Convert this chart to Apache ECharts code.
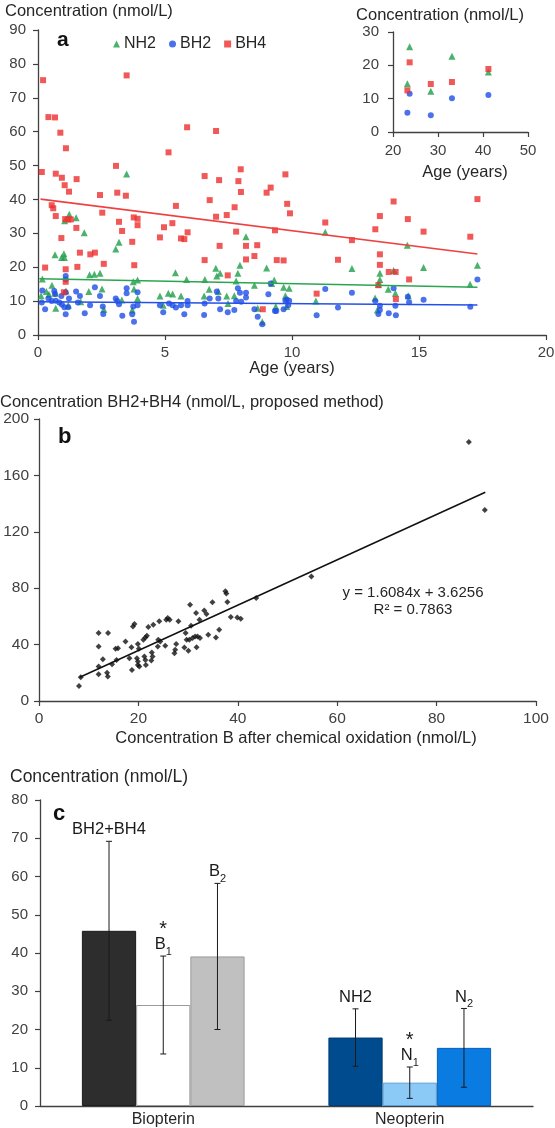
<!DOCTYPE html>
<html><head><meta charset="utf-8">
<script src="https://cdn.jsdelivr.net/npm/echarts@6/dist/echarts.min.js"></script>
<style>html,body{margin:0;padding:0;background:#fff}#c{width:555px;height:1128px}</style>
</head><body><div id="c"></div>
<script>
// ---------- Panel a: concentrations vs age ----------
const nh2 = [[3.49,47.5],[1.23,35.6],[1.05,33.7],[1.50,34.6],[1.82,30.2],[0.67,23.7],[1.02,24.0],[0.93,22.9],[1.04,22.9],[3.06,25.4],[3.19,27.4],[2.03,17.8],[2.22,17.9],[2.44,18.2],[0.17,16.5],[0.12,11.6],[0.43,12.0],[0.55,14.7],[0.33,12.8],[0.68,12.3],[0.70,7.9],[1.10,13.0],[1.19,8.8],[1.68,9.8],[2.00,12.8],[2.52,13.6],[2.59,7.6],[3.30,10.3],[3.75,15.7],[3.92,16.2],[3.78,13.6],[3.92,10.8],[3.71,7.4],[4.80,11.5],[4.93,8.8],[5.13,12.3],[5.30,12.1],[5.41,18.4],[5.63,11.5],[5.85,16.4],[6.54,11.5],[6.57,16.4],[6.74,13.5],[7.0,19.7],[7.04,17.4],[7.17,18.2],[7.10,12.8],[7.43,11.5],[7.48,9.3],[7.73,11.6],[7.80,15.9],[7.87,18.2],[7.95,20.6],[8.19,29.0],[8.52,14.7],[8.65,7.9],[8.83,3.9],[9.0,19.8],[9.2,15.2],[9.30,16.2],[9.36,8.4],[11.31,30.3],[9.67,14.1],[9.89,13.8],[9.74,11.6],[9.79,8.4],[10.94,10.0],[12.36,19.6],[13.27,10.9],[13.46,18.2],[13.46,16.4],[13.40,15.0],[13.36,7.4],[13.79,13.5],[14.00,19.0],[14.07,12.3],[14.54,26.5],[14.58,11.6],[15.18,19.9],[17.01,15.0],[17.30,20.6]];
const bh2 = [[0.17,13.1],[0.15,9.6],[0.28,7.6],[0.41,10.8],[0.54,10.0],[0.64,13.0],[0.67,12.1],[0.70,10.1],[0.84,9.6],[0.92,11.5],[0.94,9.0],[1.04,8.2],[1.09,17.4],[1.09,16.4],[1.09,12.6],[1.09,6.1],[1.22,10.8],[1.19,8.2],[1.50,12.8],[1.57,9.6],[1.65,11.5],[1.84,6.4],[2.05,8.8],[2.24,14.1],[2.44,11.5],[2.55,8.4],[2.57,6.2],[3.06,10.8],[3.12,10.0],[3.19,9.1],[3.49,13.8],[3.49,12.3],[3.32,5.7],[3.71,6.1],[3.75,8.4],[3.92,8.8],[3.92,12.6],[3.78,3.9],[4.80,8.8],[4.93,6.7],[5.16,9.3],[5.30,8.8],[5.43,8.1],[5.63,8.8],[5.76,6.1],[5.89,10.0],[5.89,8.8],[6.54,5.9],[6.56,9.3],[6.76,10.8],[7.04,12.8],[7.10,10.8],[7.17,7.6],[7.47,6.7],[7.73,7.4],[7.80,10.0],[7.87,13.8],[7.95,12.5],[8.0,9.8],[8.19,12.5],[8.19,11.1],[8.52,7.6],[8.65,5.4],[8.83,3.2],[9.07,12.0],[9.16,15.2],[9.33,7.1],[9.38,7.1],[9.67,7.6],[9.74,10.1],[9.79,10.5],[9.89,10.1],[9.85,8.8],[10.97,5.8],[11.31,13.6],[11.81,8.1],[12.36,12.5],[13.28,10.0],[13.40,6.2],[13.46,8.6],[13.46,7.4],[13.81,6.4],[14.00,13.8],[14.07,8.6],[14.09,5.8],[14.56,11.3],[14.61,9.7],[15.18,10.4],[17.02,8.3],[17.30,16.4]];
const bh4 = [[0.2,75.2],[0.41,64.3],[0.67,64.2],[0.88,59.7],[1.10,55.1],[0.15,48.1],[0.70,47.6],[0.94,46.4],[1.05,44.2],[1.52,46.0],[3.07,49.9],[3.49,76.6],[5.14,53.9],[5.87,61.3],[7.01,60.2],[6.56,46.9],[7.13,45.7],[7.89,45.4],[7.98,48.9],[1.22,42.3],[2.44,41.3],[3.12,42.0],[3.46,41.1],[0.54,38.3],[0.60,37.4],[0.70,35.1],[1.07,34.2],[1.19,34.1],[1.29,34.1],[1.51,31.6],[0.92,28.6],[2.53,36.1],[3.19,33.4],[3.31,30.7],[3.71,27.5],[3.77,34.7],[3.92,34.3],[3.92,32.4],[3.79,20.6],[1.65,24.3],[2.06,23.8],[2.24,24.3],[2.59,21.0],[1.55,20.1],[0.28,19.9],[1.09,19.4],[1.09,15.7],[1.02,12.6],[4.80,28.8],[4.96,31.8],[5.29,33.0],[5.43,38.1],[5.63,28.5],[5.76,28.3],[5.89,30.3],[6.56,22.1],[6.76,39.8],[7.01,34.9],[7.15,26.3],[7.43,35.4],[7.47,17.6],[7.74,37.7],[7.80,30.5],[7.99,42.2],[8.19,26.3],[8.19,22.3],[8.52,23.3],[8.63,26.5],[8.85,7.6],[9.0,42.0],[9.16,43.5],[9.33,30.9],[9.40,22.1],[9.74,47.4],[9.81,38.7],[9.92,35.9],[9.67,22.0],[10.97,12.2],[11.31,33.2],[11.81,22.2],[12.36,28.0],[13.28,31.2],[13.46,35.1],[13.46,23.8],[13.46,20.7],[13.40,14.7],[13.81,18.6],[14.00,39.4],[14.08,18.6],[14.09,10.6],[14.56,34.2],[14.61,16.4],[15.18,30.5],[17.02,29.0],[17.30,40.1]];
const trendNH2 = [[0.05,16.6],[17.3,14.1]];
const trendBH2 = [[0.05,9.8],[17.3,8.85]];
const trendBH4 = [[0.1,40.1],[17.3,23.9]];
// inset (adults)
const insetNH2 = [[23.2,14.5],[23.7,25.6],[28.4,12.2],[33.1,22.7],[41.2,18.0]];
const insetBH2 = [[23.2,5.8],[23.7,11.5],[28.4,5.0],[33.1,10.1],[41.2,11.1]];
const insetBH4 = [[23.2,12.5],[23.7,20.9],[28.4,14.4],[33.1,15.0],[41.2,18.9]];

// ---------- Panel b: method comparison ----------
const oxidationData = [[8.05,10.6],[8.4,16.8],[12.0,48.2],[13.9,48.2],[12.0,38.6],[12.85,29.6],[12.0,24.4],[12.0,18.9],[13.7,20.1],[13.85,17.3],[14.7,26.0],[15.6,29.1],[15.4,37.0],[15.9,37.4],[17.4,42.2],[18.6,38.2],[18.2,30.3],[18.7,22.0],[18.9,52.9],[19.2,54.6],[19.9,40.5],[20.1,37.0],[19.7,30.3],[19.9,28.0],[19.9,25.6],[20.2,24.4],[21.0,43.4],[21.4,45.1],[21.7,46.3],[21.2,31.5],[21.4,29.1],[21.5,25.6],[22.0,52.4],[23.0,54.1],[22.7,34.4],[22.85,31.5],[22.6,28.7],[24.0,43.4],[24.2,56.5],[23.9,38.6],[24.4,42.2],[25.6,57.7],[25.9,58.8],[26.3,57.7],[25.4,39.1],[27.4,36.3],[27.6,40.5],[27.25,33.9],[28.05,56.5],[29.5,48.2],[29.25,37.9],[30.05,35.6],[29.7,43.4],[30.25,43.4],[30.6,53.4],[30.4,68.3],[30.9,44.6],[31.4,45.8],[31.9,45.8],[32.4,44.6],[31.6,62.4],[31.7,38.2],[32.3,57.7],[33.25,64.1],[33.7,61.7],[34.05,47.0],[34.9,70.0],[35.6,45.1],[36.25,50.5],[37.5,77.8],[37.7,76.2],[37.9,70.2],[38.6,59.5],[39.9,59.3],[40.6,58.4],[43.7,73.1],[54.8,88.3],[86.5,183.7],[89.7,135.4]];
const fitSlope = 1.6084, fitIntercept = 3.6256, fitR2 = 0.7863;
const fitRange = [8.2, 89.8];

// ---------- Panel c: mean concentrations ----------
const barCategories = ['Biopterin', 'Neopterin'];
const barMeans = [[45.8, 17.9], [26.4, 6.1], [39.1, 15.2]];   // bar position 1..3 in each group
const barSD    = [[23.4, 7.5],  [12.8, 4.1], [19.1, 10.3]];
const barNames = [['BH2+BH4', 'NH2'], ['B', 'N'], ['B', 'N']];
const barSubs  = [['', ''], ['1', '1'], ['2', '2']];
const barStar  = [[false, false], [true, true], [false, false]];

// ---------- styles ----------
const FONT = '"Liberation Sans", Arial, sans-serif';
const AX = '#404040';
const cGreen = '#1f9e48', cBlue = '#1f4fe6', cRed = '#ee3030';
const barFill   = [['#2d2d2d', '#004b8d'], ['#ffffff', '#8bc9f6'], ['#c0c0c0', '#0a7be0']];
const barBorder = [['#1a1a1a', '#003c74'], ['#9a9a9a', '#5d9fd2'], ['#999999', '#0a62b8']];

function lab(size, margin) {
  return { color: AX, fontSize: size, fontFamily: FONT, margin: margin, showMinLabel: true, showMaxLabel: true };
}
function axisBase(extra) {
  return Object.assign({
    axisLine: { show: true, onZero: false, lineStyle: { color: AX, width: 1.3 } },
    axisTick: { show: true, inside: false, length: 5, lineStyle: { color: AX, width: 1.2 } },
    splitLine: { show: false }
  }, extra);
}

const chart = echarts.init(document.getElementById('c'), null, { renderer: 'canvas' });

function errSeries(pos) {
  return {
    type: 'custom', xAxisIndex: 3, yAxisIndex: 3, z: 10, silent: true,
    data: barCategories.map((c, i) => [i, barMeans[pos][i], barSD[pos][i]]),
    renderItem(params, api) {
      const i = api.value(0), m = api.value(1), sd = api.value(2);
      const band = api.size([1, 0])[0];
      const off = (pos - 1) * band * 0.22;
      const top = api.coord([i, m + sd]), bot = api.coord([i, m - sd]);
      const x = top[0] + off, cap = 3;
      const ls = { stroke: '#1a1a1a', lineWidth: 1 };
      const name = barNames[pos][i], sub = barSubs[pos][i];
      let txt = '{n|' + name + '}' + (sub ? '{s|' + sub + '}' : '');
      if (barStar[pos][i]) txt = '{st|*}\n' + txt;
      return { type: 'group', children: [
        { type: 'line', shape: { x1: x, y1: top[1], x2: x, y2: bot[1] }, style: ls },
        { type: 'line', shape: { x1: x - cap, y1: top[1], x2: x + cap, y2: top[1] }, style: ls },
        { type: 'line', shape: { x1: x - cap, y1: bot[1], x2: x + cap, y2: bot[1] }, style: ls },
        { type: 'text', x: x, y: top[1] - 3, style: {
            text: txt, align: 'center', verticalAlign: 'bottom', fill: '#1a1a1a',
            rich: {
              n: { fontSize: 16.5, fontFamily: FONT, fill: '#1a1a1a', lineHeight: 17, verticalAlign: 'bottom' },
              s: { fontSize: 11, fontFamily: FONT, fill: '#1a1a1a', lineHeight: 17, verticalAlign: 'bottom', padding: [0, 0, -4, 0] },
              st: { fontSize: 20, fontFamily: FONT, fill: '#1a1a1a', lineHeight: 14, align: 'center' }
            } } }
      ] };
    }
  };
}

function gtext(x, y, text, opt) {
  return Object.assign({ type: 'text', x: x, y: y, silent: true,
    style: Object.assign({ text: text, fill: '#262626', font: '16.5px ' + FONT, align: 'left', verticalAlign: 'middle' }, opt || {}) });
}

const option = {
  backgroundColor: '#fff',
  animation: false,
  grid: [
    { left: 38, top: 30, width: 508, height: 305, containLabel: false, outerBoundsMode: 'none' },
    { left: 393, top: 32, width: 135, height: 100, containLabel: false, outerBoundsMode: 'none' },
    { left: 39, top: 419, width: 497, height: 282, containLabel: false, outerBoundsMode: 'none' },
    { left: 40, top: 800, width: 493, height: 306, containLabel: false, outerBoundsMode: 'none' }
  ],
  xAxis: [
    axisBase({ gridIndex: 0, type: 'value', min: 0, max: 20, interval: 5, axisLabel: lab(15, 10) }),
    axisBase({ gridIndex: 1, type: 'value', min: 20, max: 50, interval: 10, axisLabel: lab(15, 11) }),
    axisBase({ gridIndex: 2, type: 'value', min: 0, max: 100, interval: 20, axisLabel: lab(15.5, 10) }),
    axisBase({ gridIndex: 3, type: 'category', data: barCategories, boundaryGap: true,
      axisTick: { show: false },
      axisLabel: { color: '#262626', fontSize: 16, fontFamily: FONT, margin: 6 } })
  ],
  yAxis: [
    axisBase({ gridIndex: 0, type: 'value', min: 0, max: 90, interval: 10, axisLabel: lab(15, 12) }),
    axisBase({ gridIndex: 1, type: 'value', min: 0, max: 30, interval: 10, axisLabel: lab(15, 14) }),
    axisBase({ gridIndex: 2, type: 'value', min: 0, max: 200, interval: 40, axisLabel: lab(15.5, 10) }),
    axisBase({ gridIndex: 3, type: 'value', min: 0, max: 80, interval: 10, axisLabel: lab(15, 12) })
  ],
  legend: {
    data: [{ name: 'NH2', icon: 'triangle' }, { name: 'BH2', icon: 'circle' }, { name: 'BH4', icon: 'rect' }],
    left: 108, top: 31, itemWidth: 7, itemHeight: 7, itemGap: 13, selectedMode: false,
    textStyle: { fontSize: 16, color: '#262626', fontFamily: FONT, padding: [0, 0, 0, -1] }
  },
  series: [
    { name: 'NH2', type: 'scatter', xAxisIndex: 0, yAxisIndex: 0, data: nh2, symbol: 'triangle', symbolSize: 7, itemStyle: { color: cGreen } },
    { name: 'BH2', type: 'scatter', xAxisIndex: 0, yAxisIndex: 0, data: bh2, symbol: 'circle', symbolSize: 6, itemStyle: { color: cBlue } },
    { name: 'BH4', type: 'scatter', xAxisIndex: 0, yAxisIndex: 0, data: bh4, symbol: 'rect', symbolSize: 6, itemStyle: { color: cRed } },
    { type: 'line', xAxisIndex: 0, yAxisIndex: 0, data: trendNH2, showSymbol: false, silent: true, lineStyle: { color: '#2aa650', width: 1.6 }, z: 5 },
    { type: 'line', xAxisIndex: 0, yAxisIndex: 0, data: trendBH2, showSymbol: false, silent: true, lineStyle: { color: '#2350e8', width: 1.6 }, z: 5 },
    { type: 'line', xAxisIndex: 0, yAxisIndex: 0, data: trendBH4, showSymbol: false, silent: true, lineStyle: { color: '#ef4040', width: 1.6 }, z: 5 },
    { name: 'NH2', type: 'scatter', xAxisIndex: 1, yAxisIndex: 1, data: insetNH2, symbol: 'triangle', symbolSize: 7, itemStyle: { color: cGreen } },
    { name: 'BH2', type: 'scatter', xAxisIndex: 1, yAxisIndex: 1, data: insetBH2, symbol: 'circle', symbolSize: 6, itemStyle: { color: cBlue } },
    { name: 'BH4', type: 'scatter', xAxisIndex: 1, yAxisIndex: 1, data: insetBH4, symbol: 'rect', symbolSize: 6, itemStyle: { color: cRed } },
    { type: 'scatter', xAxisIndex: 2, yAxisIndex: 2, data: oxidationData, symbol: 'diamond', symbolSize: 6, itemStyle: { color: '#111' } },
    { type: 'line', xAxisIndex: 2, yAxisIndex: 2, data: fitRange.map(x => [x, fitSlope * x + fitIntercept]), showSymbol: false, silent: true, lineStyle: { color: '#111', width: 1.5 } },
    ...[0, 1, 2].map(p => ({
      type: 'bar', xAxisIndex: 3, yAxisIndex: 3, barWidth: '22%', barGap: '0%',
      data: barMeans[p].map((v, i) => ({ value: v, itemStyle: { color: barFill[p][i], borderColor: barBorder[p][i], borderWidth: 1 } }))
    })),
    errSeries(0), errSeries(1), errSeries(2)
  ],
  graphic: [
    gtext(5, 11, 'Concentration (nmol/L)'),
    gtext(57, 40, 'a', { font: 'bold 21px ' + FONT, fill: '#111' }),
    gtext(440, 15, 'Concentration (nmol/L)', { align: 'center' }),
    gtext(465, 172, 'Age (years)', { align: 'center' }),
    gtext(292, 368, 'Age (years)', { align: 'center' }),
    gtext(0, 402, 'Concentration BH2+BH4 (nmol/L, proposed method)'),
    gtext(58, 437, 'b', { font: 'bold 22px ' + FONT, fill: '#111' }),
    gtext(413, 593, 'y = ' + fitSlope + 'x + ' + fitIntercept, { align: 'center', font: '15px ' + FONT }),
    gtext(413, 610, 'R² = ' + fitR2, { align: 'center', font: '15px ' + FONT }),
    gtext(296, 738, 'Concentration B after chemical oxidation (nmol/L)', { align: 'center' }),
    gtext(10, 777, 'Concentration (nmol/L)', { font: '17.5px ' + FONT }),
    gtext(53, 814, 'c', { font: 'bold 22px ' + FONT, fill: '#111' })
  ]
};
chart.setOption(option);
</script></body></html>
